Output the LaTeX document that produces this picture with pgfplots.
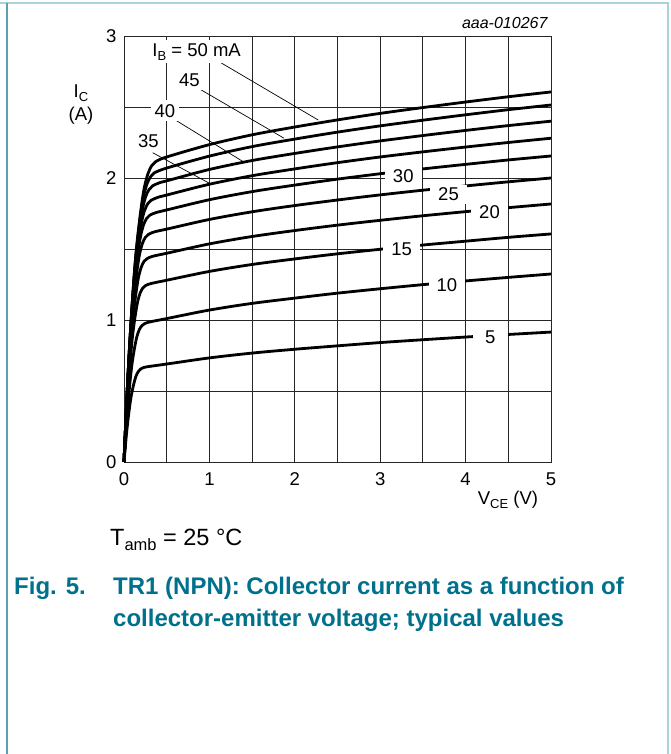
\documentclass[border=0pt]{standalone}
\usepackage{pgfplots}
\pgfplotsset{compat=1.18}
\usepackage{fontspec}
\setmainfont{Liberation Sans}
\definecolor{capteal}{HTML}{00718C}
\definecolor{bordteal}{HTML}{5AA2B1}
\definecolor{bordlight}{HTML}{A8D3DC}
\newcommand{\chartfont}{\fontsize{18.5}{20}\selectfont}
\newcommand{\sub}[2]{\raisebox{-0.22em}{\fontsize{#1}{#1}\selectfont #2}}
\begin{document}
\begin{tikzpicture}
\useasboundingbox (0pt,0pt) rectangle (670pt,754pt);
\fill[white] (0pt,0pt) rectangle (670pt,754pt);
\draw[bordlight, line width=2pt] (0pt,751pt) -- (669pt,751pt);
\draw[bordlight, line width=2pt] (668pt,751pt) -- (668pt,0pt);
\draw[bordteal, line width=1.6pt] (7pt,751pt) -- (7pt,0pt);
\begin{axis}[
  scale only axis, width=427pt, height=426pt,
  anchor=south west, at={(124pt,292pt)},
  xmin=0, xmax=5, ymin=0, ymax=3,
  xtick={0,1,2,3,4,5}, ytick={0,1,2,3},
  minor tick num=1,
  grid=both,
  major grid style={black!85, line width=0.9pt},
  minor grid style={black!85, line width=0.9pt},
  axis line style={black!85, line width=0.9pt},
  major tick length=0pt, minor tick length=0pt,
  tick label style={font=\chartfont},
  /pgf/number format/assume math mode=true,
  xticklabel style={anchor=north, yshift=-7pt},
  yticklabel style={anchor=east, xshift=-4pt},
  clip=false,
  curve/.style={black, line width=2.8pt, smooth, mark=none, line join=round},
]
% IB = 5 mA
\addplot[curve] coordinates {(0,0)(0.0275,0.188)(0.055,0.339)(0.0825,0.458)(0.11,0.538)(0.1375,0.600)(0.165,0.635)(0.1925,0.654)(0.22,0.663)(0.275,0.671)(0.5,0.69)(1,0.733)(1.5,0.767)(2,0.794)(2.5,0.818)(3,0.841)(3.5,0.861)(4,0.880)(4.5,0.898)(5,0.915)};
% 10 mA
\addplot[curve] coordinates {(0,0)(0.03,0.277)(0.06,0.498)(0.09,0.673)(0.12,0.791)(0.15,0.881)(0.18,0.933)(0.21,0.960)(0.24,0.974)(0.30,0.986)(0.5,1.01)(1,1.070)(1.5,1.117)(2,1.154)(2.5,1.189)(3,1.220)(3.5,1.249)(4,1.275)(4.5,1.300)(5,1.324)};
% 15 mA
\addplot[curve] coordinates {(0,0)(0.0318,0.354)(0.0635,0.637)(0.0953,0.861)(0.127,1.012)(0.1588,1.126)(0.1905,1.192)(0.2223,1.227)(0.254,1.243)(0.3175,1.257)(0.5,1.28)(1,1.342)(1.5,1.391)(2,1.430)(2.5,1.466)(3,1.498)(3.5,1.528)(4,1.555)(4.5,1.582)(5,1.606)};
% 20 mA
\addplot[curve] coordinates {(0,0)(0.0338,0.408)(0.0675,0.735)(0.1013,0.992)(0.135,1.166)(0.1688,1.298)(0.2025,1.373)(0.2363,1.414)(0.27,1.432)(0.3375,1.449)(0.5,1.47)(1,1.536)(1.5,1.588)(2,1.630)(2.5,1.668)(3,1.702)(3.5,1.734)(4,1.763)(4.5,1.791)(5,1.817)};
% 25 mA
\addplot[curve] coordinates {(0,0)(0.0358,0.457)(0.0715,0.822)(0.1073,1.110)(0.143,1.305)(0.1788,1.452)(0.2145,1.537)(0.2503,1.582)(0.286,1.603)(0.3575,1.621)(0.5,1.64)(1,1.708)(1.5,1.762)(2,1.806)(2.5,1.845)(3,1.881)(3.5,1.914)(4,1.944)(4.5,1.973)(5,2.0)};
% 30 mA
\addplot[curve] coordinates {(0,0)(0.0378,0.495)(0.0755,0.891)(0.1133,1.204)(0.151,1.414)(0.1888,1.574)(0.2265,1.666)(0.2643,1.715)(0.302,1.738)(0.3775,1.757)(0.5,1.775)(1,1.847)(1.5,1.904)(2,1.950)(2.5,1.992)(3,2.030)(3.5,2.064)(4,2.096)(4.5,2.127)(5,2.155)};
% 35 mA
\addplot[curve] coordinates {(0,0)(0.0398,0.525)(0.0795,0.944)(0.1193,1.275)(0.159,1.499)(0.1988,1.669)(0.2385,1.767)(0.2783,1.819)(0.318,1.843)(0.3975,1.864)(0.5,1.88)(1,1.956)(1.5,2.016)(2,2.064)(2.5,2.108)(3,2.148)(3.5,2.184)(4,2.218)(4.5,2.250)(5,2.28)};
% 40 mA
\addplot[curve] coordinates {(0,0)(0.0418,0.553)(0.0835,0.995)(0.1253,1.344)(0.167,1.580)(0.2088,1.759)(0.2505,1.863)(0.2923,1.918)(0.334,1.944)(0.4175,1.967)(0.5,1.98)(1,2.060)(1.5,2.123)(2,2.173)(2.5,2.219)(3,2.261)(3.5,2.299)(4,2.335)(4.5,2.369)(5,2.40)};
% 45 mA
\addplot[curve] coordinates {(0,0)(0.044,0.578)(0.088,1.040)(0.132,1.405)(0.176,1.652)(0.22,1.841)(0.264,1.949)(0.308,2.007)(0.352,2.035)(0.5,2.07)(1,2.154)(1.5,2.221)(2,2.274)(2.5,2.323)(3,2.367)(3.5,2.407)(4,2.445)(4.5,2.481)(5,2.514)};
% 50 mA
\addplot[curve] coordinates {(0,0)(0.0463,0.600)(0.0925,1.080)(0.1388,1.460)(0.185,1.716)(0.2313,1.912)(0.2775,2.025)(0.3238,2.086)(0.37,2.115)(0.5,2.148)(1,2.235)(1.5,2.304)(2,2.359)(2.5,2.409)(3,2.455)(3.5,2.496)(4,2.535)(4.5,2.572)(5,2.606)};
% leader lines
\draw[black, line width=0.7pt] (axis cs:1.046,2.843) -- (axis cs:2.275,2.408);
\draw[black, line width=0.7pt] (axis cs:0.85,2.639) -- (axis cs:1.874,2.28);
\draw[black, line width=0.7pt] (axis cs:0.57,2.42) -- (axis cs:1.409,2.11);
\draw[black, line width=0.7pt] (axis cs:0.336,2.178) -- (axis cs:1.015,1.958);
% labels with leaders
\node[fill=white, inner sep=3pt, font=\chartfont] at (axis cs:0.85,2.889) {I\sub{13}{B} = 50 mA};
\node[fill=white, inner sep=3pt, font=\chartfont] at (axis cs:0.765,2.685) {45};
\node[fill=white, inner sep=4pt, font=\chartfont] at (axis cs:0.48,2.474) {40};
\node[fill=white, inner sep=3pt, font=\chartfont] at (axis cs:0.285,2.26) {35};
% labels on curves
\node[fill=white, inner xsep=8pt, inner ysep=3pt, font=\chartfont] at (axis cs:3.27,2.016) {30};
\node[fill=white, inner xsep=8pt, inner ysep=3pt, font=\chartfont] at (axis cs:3.80,1.885) {25};
\node[fill=white, inner xsep=8pt, inner ysep=3pt, font=\chartfont] at (axis cs:4.28,1.763) {20};
\node[fill=white, inner xsep=8pt, inner ysep=3pt, font=\chartfont] at (axis cs:3.25,1.498) {15};
\node[fill=white, inner xsep=8pt, inner ysep=3pt, font=\chartfont] at (axis cs:3.78,1.246) {10};
\node[fill=white, inner xsep=12pt, inner ysep=3pt, font=\chartfont] at (axis cs:4.29,0.878) {5};
\end{axis}
% outer texts
\node[anchor=east, font=\fontsize{16}{18}\selectfont\itshape] at (551pt,731pt) {aaa-010267};
\node[font=\chartfont, inner sep=0pt] at (81pt,661pt) {I\sub{13}{C}};
\node[font=\chartfont, inner sep=0pt] at (81pt,638pt) {(A)};
\node[font=\chartfont] at (508pt,254pt) {V\sub{13}{CE} (V)};
\node[anchor=west, font=\fontsize{23.5}{26}\selectfont, inner sep=0pt] at (110pt,214pt) {T\sub{16.5}{amb} = 25 °C};
\node[anchor=west, font=\fontsize{24}{26}\selectfont\bfseries, text=capteal, inner sep=0pt] at (14pt,166pt) {Fig. 5.};
\node[anchor=west, font=\fontsize{24}{26}\selectfont\bfseries, text=capteal, inner sep=0pt] at (113pt,166pt) {TR1 (NPN): Collector current as a function of};
\node[anchor=west, font=\fontsize{24}{26}\selectfont\bfseries, text=capteal, inner sep=0pt] at (113pt,134pt) {collector-emitter voltage; typical values};
\end{tikzpicture}
\end{document}
